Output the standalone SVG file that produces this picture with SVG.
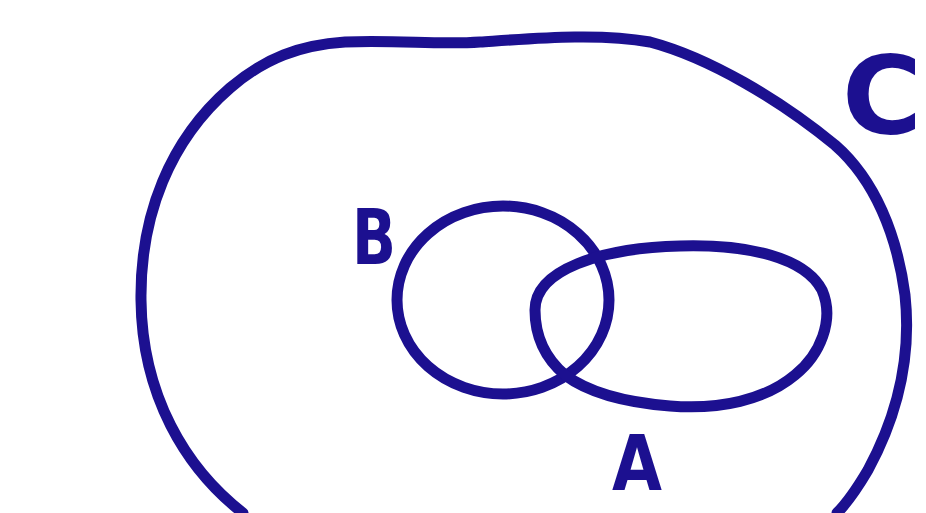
<svg xmlns="http://www.w3.org/2000/svg" width="926" height="513" viewBox="0 0 926 513">
<style>
.ln{fill:none;stroke:#1c1090;stroke-width:11;stroke-linecap:round;stroke-linejoin:round}
.lb{font-family:"DejaVu Sans",sans-serif;font-weight:bold;fill:#1c1090}
</style>
<rect width="926" height="513" fill="#ffffff"/>
<g id="C">
<path class="ln" d="M 243 513 C 185 468 142 395 141 300 C 140 215 170 140 230 88 C 265 58 300 45 345 42 C 400 40 440 45 480 42 C 540 38 600 33 650 42 C 710 58 780 100 835 145 C 875 180 897 235 905 295 C 912 360 895 420 868 470 C 855 492 845 505 837 513"/>
<text class="lb" x="842" y="133" font-size="108" textLength="80" lengthAdjust="spacingAndGlyphs">C</text>
</g>
<g id="B">
<ellipse class="ln" cx="503" cy="300" rx="106" ry="94"/>
<text class="lb" x="352" y="264" font-size="76" textLength="44" lengthAdjust="spacingAndGlyphs">B</text>
</g>
<g id="A">
<path class="ln" d="M 535 310 C 535 270 600 248 680 246 C 750 244 805 258 822 290 C 835 320 820 355 795 375 C 765 400 720 410 670 406 C 620 402 585 390 565 375 C 545 358 535 335 535 310 Z"/>
<text class="lb" x="612" y="490" font-size="76" textLength="50" lengthAdjust="spacingAndGlyphs">A</text>
</g>
</svg>
